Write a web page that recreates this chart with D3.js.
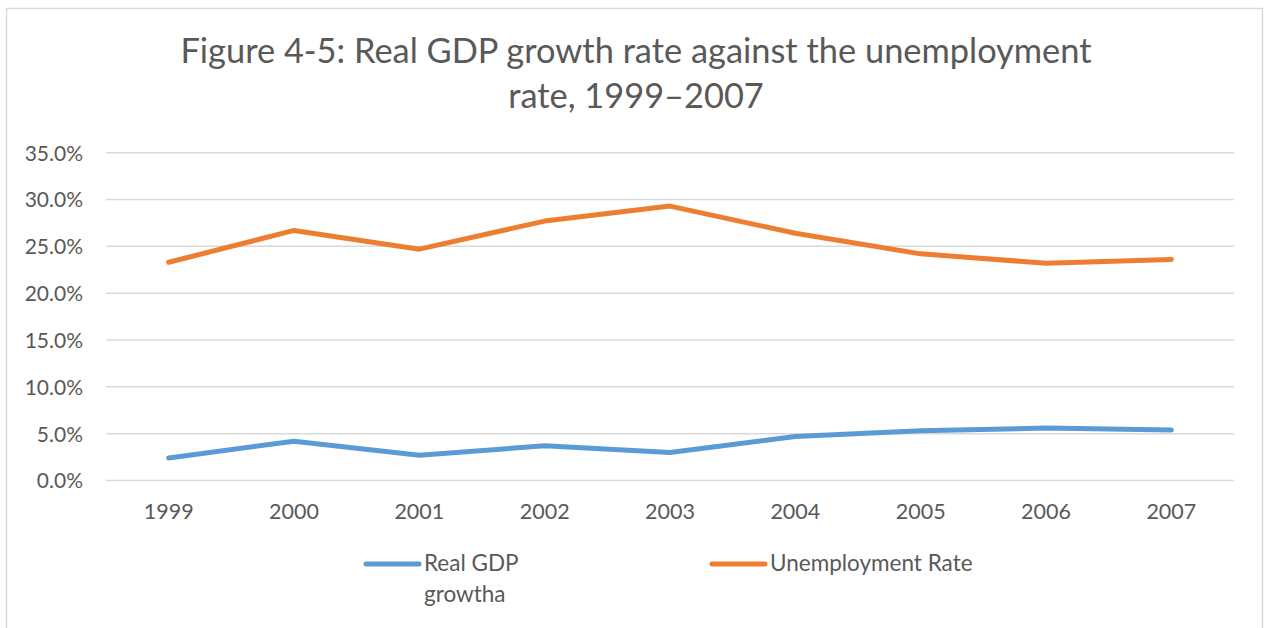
<!DOCTYPE html>
<html lang="en">
	<head>
		<meta charset="utf-8">
		<title>Real GDP growth rate against the unemployment rate</title>
		<script type="text/javascript" src="https://cdn.jsdelivr.net/npm/d3@7"></script>
		<style type="text/css">
			html, body {
				margin: 0;
				padding: 0;
				background-color: white;
			}
			text {
				font-family: Lato, "Open Sans", sans-serif;
				fill: #595959;
			}
		</style>
	</head>
	<body>
		<script type="text/javascript">

			//Data
			var years = ["1999", "2000", "2001", "2002", "2003", "2004", "2005", "2006", "2007"];
			var gdpGrowth = [2.4, 4.2, 2.7, 3.7, 3.0, 4.7, 5.3, 5.6, 5.4];
			var unemployment = [23.3, 26.7, 24.7, 27.7, 29.3, 26.4, 24.2, 23.2, 23.6];
			var yTicks = [0, 5, 10, 15, 20, 25, 30, 35];
			var seriesNames = ["Real GDP growtha", "Unemployment Rate"];
			var titleLines = ["Figure 4-5: Real GDP growth rate against the unemployment", "rate, 1999\u20132007"];

			//Width and height
			var w = 1264;
			var h = 628;
			var margin = {top: 153, right: 30, bottom: 147, left: 106};

			var svg = d3.select("body")
						.append("svg")
						.attr("width", w)
						.attr("height", h);

			//Chart border
			svg.append("rect")
				.attr("x", 6.5)
				.attr("y", 8.5)
				.attr("width", 1256)
				.attr("height", 640)
				.attr("fill", "white")
				.attr("stroke", "#d9d9d9")
				.attr("stroke-width", 1.5);

			//Scales
			var x = d3.scaleBand()
						.domain(years)
						.range([margin.left, w - margin.right]);

			var y = d3.scaleLinear()
						.domain([0, 35])
						.range([h - margin.bottom - 0.5, margin.top - 0.3]);

			//Gridlines
			svg.append("g")
				.selectAll("line")
				.data(yTicks)
				.enter()
				.append("line")
				.attr("x1", margin.left)
				.attr("x2", w - margin.right)
				.attr("y1", function(d) { return y(d); })
				.attr("y2", function(d) { return y(d); })
				.attr("stroke", "#d9d9d9")
				.attr("stroke-width", 1.5);

			//Y axis
			var yAxis = d3.axisLeft(y)
							.tickValues(yTicks)
							.tickSize(0)
							.tickPadding(23)
							.tickFormat(function(d) { return d3.format(".1f")(d) + "%"; });

			svg.append("g")
				.attr("transform", "translate(" + margin.left + ",0)")
				.call(yAxis)
				.call(function(g) { g.select(".domain").remove(); })
				.selectAll("text")
				.attr("font-size", "21px")
				.attr("dy", "0.35em");

			//X axis
			var xAxis = d3.axisBottom(x)
							.tickSize(0)
							.tickPadding(23);

			svg.append("g")
				.attr("transform", "translate(0," + y(0) + ")")
				.call(xAxis)
				.call(function(g) { g.select(".domain").remove(); })
				.selectAll("text")
				.attr("font-size", "21.5px");

			//Lines
			var line = d3.line()
						.x(function(d, i) { return x(years[i]) + x.bandwidth() / 2; })
						.y(function(d) { return y(d); });

			var series = [
				{name: seriesNames[0], values: gdpGrowth, color: "#5b9bd5"},
				{name: seriesNames[1], values: unemployment, color: "#ed7d31"}
			];

			svg.selectAll("path.series")
				.data(series)
				.enter()
				.append("path")
				.attr("class", "series")
				.attr("d", function(d) { return line(d.values); })
				.attr("fill", "none")
				.attr("stroke", function(d) { return d.color; })
				.attr("stroke-width", 5)
				.attr("stroke-linecap", "round")
				.attr("stroke-linejoin", "round");

			//Legend
			var legend = svg.selectAll("g.legend")
							.data(series)
							.enter()
							.append("g")
							.attr("class", "legend")
							.attr("transform", function(d, i) { return "translate(" + [366, 712][i] + ",564)"; });

			legend.append("line")
				.attr("x1", 0)
				.attr("x2", 53)
				.attr("stroke", function(d) { return d.color; })
				.attr("stroke-width", 5)
				.attr("stroke-linecap", "round");

			legend.append("text")
				.attr("x", 58)
				.attr("y", 7)
				.attr("font-size", "22.5px")
				.text(function(d, i) { return i == 0 ? "Real GDP" : d.name; });

			svg.select("g.legend")
				.append("text")
				.attr("x", 58)
				.attr("y", 38)
				.attr("font-size", "22.5px")
				.text("growtha");

			//Title
			svg.selectAll("text.title")
				.data(titleLines)
				.enter()
				.append("text")
				.attr("class", "title")
				.attr("x", 636)
				.attr("y", function(d, i) { return 63 + i * 45; })
				.attr("text-anchor", "middle")
				.attr("font-size", "34.4px")
				.text(function(d) { return d; });

		</script>
	</body>
</html>
